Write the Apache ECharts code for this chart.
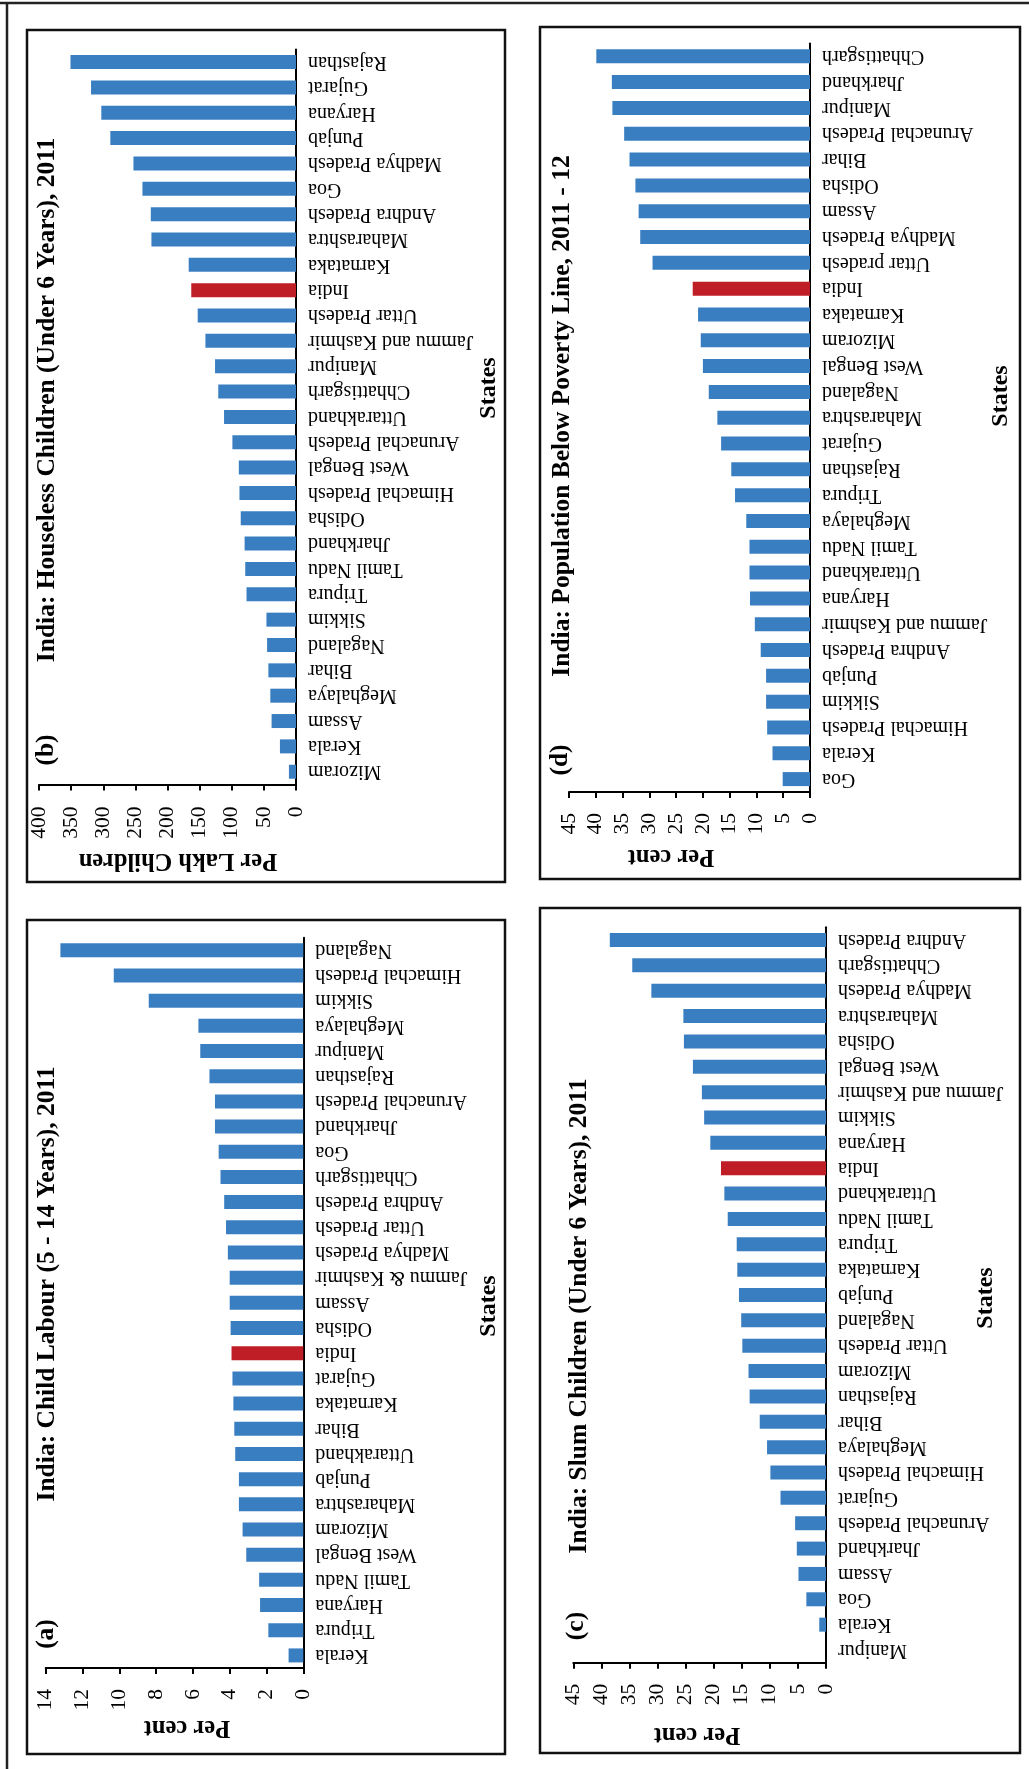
<!DOCTYPE html>
<html>
<head>
<meta charset="utf-8">
<script src="https://cdn.jsdelivr.net/npm/echarts@6/dist/echarts.min.js"></script>
<style>
html,body{margin:0;padding:0;background:#fff;}
#chart{width:1029px;height:1769px;}
</style>
</head>
<body>
<div id="chart"></div>
<script>
// (a) Child Labour (5 - 14 Years), 2011 — per cent
const catsA = ['Nagaland','Himachal Pradesh','Sikkim','Meghalaya','Manipur','Rajasthan','Arunachal Pradesh','Jharkhand','Goa','Chhattisgarh','Andhra Pradesh','Uttar Pradesh','Madhya Pradesh','Jammu & Kashmir','Assam','Odisha','India','Gujarat','Karnataka','Bihar','Uttarakhand','Punjab','Maharashtra','Mizoram','West Bengal','Tamil Nadu','Haryana','Tripura','Kerala'];
const valsA = [13.2,10.3,8.4,5.7,5.6,5.1,4.8,4.8,4.6,4.5,4.3,4.2,4.1,4.0,4.0,3.95,3.9,3.85,3.8,3.75,3.7,3.5,3.5,3.3,3.1,2.4,2.35,1.9,0.8];
const ticksA = [0,2,4,6,8,10,12,14];

// (b) Houseless Children (Under 6 Years), 2011 — per lakh children
const catsB = ['Rajasthan','Gujarat','Haryana','Punjab','Madhya Pradesh','Goa','Andhra Pradesh','Maharashtra','Karnataka','India','Uttar Pradesh','Jammu and Kashmir','Manipur','Chhattisgarh','Uttarakhand','Arunachal Pradesh','West Bengal','Himachal Pradesh','Odisha','Jharkhand','Tamil Nadu','Tripura','Sikkim','Nagaland','Bihar','Meghalaya','Assam','Kerala','Mizoram'];
const valsB = [351,319,303,289,253,239,226,225,167,163,153,141,126,121,112,99,89,88,86,80,79,77,46,45,43,40,38,25,11];
const ticksB = [0,50,100,150,200,250,300,350,400];

// (c) Slum Children (Under 6 Years), 2011 — per cent
const catsC = ['Andhra Pradesh','Chhattisgarh','Madhya Pradesh','Maharashtra','Odisha','West Bengal','Jammu and Kashmir','Sikkim','Haryana','India','Uttarakhand','Tamil Nadu','Tripura','Karnataka','Punjab','Nagaland','Uttar Pradesh','Mizoram','Rajasthan','Bihar','Meghalaya','Himachal Pradesh','Gujarat','Arunachal Pradesh','Jharkhand','Assam','Goa','Kerala','Manipur'];
const valsC = [38.5,34.5,31.1,25.4,25.3,23.7,22.1,21.7,20.6,18.7,18.1,17.5,15.9,15.8,15.5,15.1,14.9,13.8,13.6,11.8,10.5,9.9,8.1,5.5,5.2,4.9,3.5,1.2,0];
const ticksC = [0,5,10,15,20,25,30,35,40,45];

// (d) Population Below Poverty Line, 2011 - 12 — per cent
const catsD = ['Chhattisgarh','Jharkhand','Manipur','Arunachal Pradesh','Bihar','Odisha','Assam','Madhya Pradesh','Uttar pradesh','India','Karnataka','Mizoram','West Bengal','Nagaland','Maharashtra','Gujarat','Rajasthan','Tripura','Meghalaya','Tamil Nadu','Uttarakhand','Haryana','Jammu and Kashmir','Andhra Pradesh','Punjab','Sikkim','Himachal Pradesh','Kerala','Goa'];
const valsD = [39.9,37.0,36.9,34.7,33.7,32.6,32.0,31.7,29.4,21.9,20.9,20.4,20.0,18.9,17.3,16.6,14.7,14.0,11.9,11.3,11.3,11.2,10.3,9.2,8.2,8.2,8.0,7.0,5.1];
const ticksD = [0,5,10,15,20,25,30,35,40,45];

const BLUE = '#3A7EC2';
const RED = '#BF1E26';
const SERIF = '"Liberation Serif", "Times New Roman", serif';

const panels = [
  {cats: catsA, vals: valsA, ticks: ticksA, rect: {left: 45.7, top: 937.7, width: 257.6, height: 730.3}, margin: 21},
  {cats: catsB, vals: valsB, ticks: ticksB, rect: {left: 39, top: 49.4, width: 257, height: 735}, margin: 22},
  {cats: catsC, vals: valsC, ticks: ticksC, rect: {left: 573.3, top: 927.3, width: 252.7, height: 735.4}, margin: 21},
  {cats: catsD, vals: valsD, ticks: ticksD, rect: {left: 569, top: 43.4, width: 241, height: 748.6}, margin: 21}
];

const grids = [], xAxes = [], yAxes = [], series = [];
panels.forEach((p, i) => {
  grids.push(Object.assign({containLabel: false, outerBoundsMode: 'none', show: false}, p.rect));
  xAxes.push({
    gridIndex: i, type: 'value', inverse: true, position: 'bottom',
    min: p.ticks[0], max: p.ticks[p.ticks.length - 1], interval: p.ticks[1] - p.ticks[0],
    axisLine: {show: true, onZero: false, lineStyle: {color: '#000', width: 2}},
    axisTick: {show: true, inside: false, length: 6, lineStyle: {color: '#000', width: 2}},
    splitLine: {show: false},
    axisLabel: {rotate: 90, margin: p.margin, color: '#000', fontFamily: SERIF, fontSize: 21.5, showMinLabel: true, showMaxLabel: true, hideOverlap: false}
  });
  yAxes.push({
    gridIndex: i, type: 'category', data: p.cats, inverse: true, position: 'right',
    axisLine: {show: true, onZero: false, lineStyle: {color: '#000', width: 2}},
    axisTick: {show: false},
    splitLine: {show: false},
    axisLabel: {rotate: 180, margin: 12, interval: 0, color: '#000', fontFamily: SERIF, fontSize: 20, hideOverlap: false}
  });
  series.push({
    type: 'bar', xAxisIndex: i, yAxisIndex: i, barWidth: 14, silent: true,
    data: p.vals.map((v, k) => ({value: v, itemStyle: {color: p.cats[k] === 'India' ? RED : BLUE}}))
  });
});

function txt(text, x, y, rot, size, bold) {
  return {
    type: 'text', x: x, y: y, rotation: rot, z: 10, silent: true,
    style: {
      text: text, fill: '#000',
      font: (bold ? 'bold ' : '') + size + 'px ' + SERIF,
      textAlign: 'center', textVerticalAlign: 'middle', verticalAlign: 'middle'
    }
  };
}
function box(x1, y1, x2, y2) {
  return {type: 'rect', silent: true, z: 1, shape: {x: x1, y: y1, width: x2 - x1, height: y2 - y1}, style: {fill: null, stroke: '#111', lineWidth: 2.5}};
}
const UP = Math.PI / 2, FLIP = Math.PI;
const graphics = [
  {type: 'line', silent: true, shape: {x1: 0, y1: 3, x2: 1029, y2: 3}, style: {stroke: '#222', lineWidth: 2.5}},
  {type: 'line', silent: true, shape: {x1: 7, y1: 3, x2: 7, y2: 1769}, style: {stroke: '#222', lineWidth: 2.5}},
  box(27, 30, 505, 882),
  box(540, 27, 1020, 879),
  box(27, 920, 505, 1754),
  box(540, 908, 1020, 1753),
  // titles
  txt('India: Houseless Children (Under 6 Years), 2011', 47.5, 400, UP, 25.5, true),
  txt('India: Child Labour (5 - 14 Years), 2011', 47.5, 1284, UP, 25.5, true),
  txt('India: Population Below Poverty Line, 2011 - 12', 562, 416, UP, 25.5, true),
  txt('India: Slum Children (Under 6 Years), 2011', 579, 1316, UP, 25.5, true),
  // panel letters
  txt('(b)', 46, 750, UP, 25.5, true),
  txt('(a)', 46, 1634, UP, 25.5, true),
  txt('(d)', 560, 760, UP, 25.5, true),
  txt('(c)', 576, 1626, UP, 25.5, true),
  // value-axis names
  txt('Per Lakh Children', 178, 860, FLIP, 24.5, true),
  txt('Per cent', 187, 1727, FLIP, 24.5, true),
  txt('Per cent', 671, 856, FLIP, 24.5, true),
  txt('Per cent', 697, 1734, FLIP, 24.5, true),
  // category-axis names
  txt('States', 489, 388, UP, 24, true),
  txt('States', 489, 1306, UP, 24, true),
  txt('States', 1001, 396, UP, 24, true),
  txt('States', 986, 1298, UP, 24, true)
];

const chart = echarts.init(document.getElementById('chart'), null, {renderer: 'canvas'});
chart.setOption({
  backgroundColor: '#fff',
  animation: false,
  grid: grids,
  xAxis: xAxes,
  yAxis: yAxes,
  series: series,
  graphic: {elements: graphics}
});
</script>
</body>
</html>
